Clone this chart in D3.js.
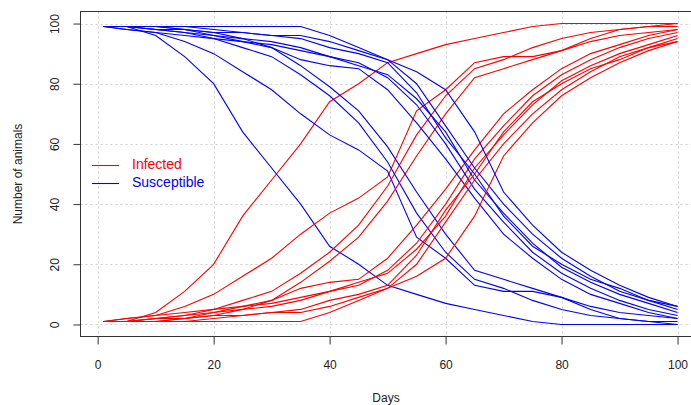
<!DOCTYPE html>
<html>
<head>
<meta charset="utf-8">
<script src="https://cdn.jsdelivr.net/npm/d3@7"></script>
<style>
  body { margin: 0; background: #fff; }
  svg { display: block; font-family: "Liberation Sans", Arial, sans-serif; }
</style>
</head>
<body>
<svg id="chart" width="691" height="405"></svg>
<script>
// ---- data ----
const days = [1, 5, 10, 15, 20, 25, 30, 35, 40, 45, 50, 55, 60, 65, 70, 75, 80, 85, 90, 95, 100];

const infA = [1, 1, 4, 11, 20, 36, 48, 60, 74, 80, 87, 90, 93, 95, 97, 99, 100, 100, 100, 100, 100];
const infB = [1, 2, 3, 6, 10, 16, 22, 30, 37, 42, 49, 71, 78, 87, 89, 89, 91, 95, 98, 99, 100];
const infC = [1, 1, 2, 3, 5, 8, 11, 17, 24, 33, 46, 63, 76, 85, 88, 92, 95, 97, 98, 99, 99];
const infD = [1, 1, 1, 2, 4, 6, 8, 14, 21, 29, 41, 56, 70, 82, 85, 88, 91, 94, 96, 97, 98];
const infE = [1, 1, 2, 3, 4, 5, 8, 12, 14, 15, 22, 33, 45, 58, 70, 78, 85, 90, 93, 96, 98];
const infF = [1, 1, 1, 2, 3, 5, 6, 8, 11, 13, 18, 27, 40, 55, 66, 76, 83, 88, 92, 95, 97];
const infG = [1, 2, 3, 4, 5, 6, 7, 9, 11, 14, 17, 25, 36, 52, 63, 73, 81, 86, 90, 93, 96];
const infH = [1, 1, 1, 1, 2, 3, 4, 5, 8, 10, 13, 23, 38, 50, 64, 74, 80, 85, 88, 92, 95];
const infI = [1, 1, 2, 2, 3, 3, 4, 4, 6, 9, 12, 20, 34, 48, 60, 70, 78, 84, 89, 92, 94];
const infJ = [1, 1, 1, 1, 1, 1, 1, 1, 4, 8, 12, 16, 22, 36, 56, 67, 76, 82, 87, 91, 94];

const susA = [99, 99, 96, 89, 80, 64, 52, 40, 26, 20, 13, 10, 7, 5, 3, 1, 0, 0, 0, 0, 0];
const susB = [99, 98, 97, 94, 90, 84, 78, 70, 63, 58, 51, 29, 22, 13, 11, 11, 9, 5, 2, 1, 0];
const susC = [99, 99, 98, 97, 95, 92, 89, 83, 76, 67, 54, 37, 24, 15, 12, 8, 5, 3, 2, 1, 1];
const susD = [99, 99, 99, 98, 96, 94, 92, 86, 79, 71, 59, 44, 30, 18, 15, 12, 9, 6, 4, 3, 2];
const susE = [99, 99, 98, 97, 96, 95, 92, 88, 86, 85, 78, 67, 55, 42, 30, 22, 15, 10, 7, 4, 2];
const susF = [99, 99, 99, 98, 97, 95, 94, 92, 89, 87, 82, 73, 60, 45, 34, 24, 17, 12, 8, 5, 3];
const susG = [99, 98, 97, 96, 95, 94, 93, 91, 89, 86, 83, 75, 64, 48, 37, 27, 19, 14, 10, 7, 4];
const susH = [99, 99, 99, 99, 98, 97, 96, 95, 92, 90, 87, 77, 62, 50, 36, 26, 20, 15, 12, 8, 5];
const susI = [99, 99, 98, 98, 97, 97, 96, 96, 94, 91, 88, 80, 66, 52, 40, 30, 22, 16, 11, 8, 6];
const susJ = [99, 99, 99, 99, 99, 99, 99, 99, 96, 92, 88, 84, 78, 64, 44, 33, 24, 18, 13, 9, 6];

const xTicks = [0, 20, 40, 60, 80, 100];
const yTicks = [0, 20, 40, 60, 80, 100];
const legendLabels = ["Infected", "Susceptible"];
const seriesColors = ["#ff0000", "#0000ff"];

const runs = [
  [infA, susA], [infB, susB], [infC, susC], [infD, susD], [infE, susE],
  [infF, susF], [infG, susG], [infH, susH], [infI, susI], [infJ, susJ]
];

// ---- layout ----
const svg = d3.select("#chart");
const pLeft = 80.5, pRight = 700.5, pTop = 11.5, pBottom = 336.5;

const x = d3.scaleLinear().domain([-2.96, 103.96]).range([pLeft, pRight]);
const y = d3.scaleLinear().domain([-4, 104]).range([pBottom, pTop]);

// grid
const grid = svg.append("g");
grid.selectAll("line.vx").data(xTicks).join("line")
  .attr("x1", d => Math.round(x(d)) + 0.5).attr("x2", d => Math.round(x(d)) + 0.5)
  .attr("y1", pTop).attr("y2", pBottom)
  .attr("stroke", "#cfcfcf").attr("stroke-dasharray", "2,3");
grid.selectAll("line.hy").data(yTicks).join("line")
  .attr("y1", d => Math.round(y(d)) + 0.5).attr("y2", d => Math.round(y(d)) + 0.5)
  .attr("x1", pLeft).attr("x2", pRight)
  .attr("stroke", "#cfcfcf").attr("stroke-dasharray", "2,3");

// lines
const line = d3.line().x((d, i) => x(days[i])).y(d => y(d)).curve(d3.curveLinear);
const lines = svg.append("g").attr("fill", "none").attr("stroke-width", 1.1);
runs.forEach(([inf, sus]) => {
  lines.append("path").attr("d", line(inf)).attr("stroke", seriesColors[0]);
  lines.append("path").attr("d", line(sus)).attr("stroke", seriesColors[1]);
});

// box
svg.append("rect").attr("x", pLeft).attr("y", pTop)
  .attr("width", pRight - pLeft).attr("height", pBottom - pTop)
  .attr("fill", "none").attr("stroke", "#333").attr("stroke-width", 1);

// axes
const xAxis = d3.axisBottom(x).tickValues(xTicks).tickSize(8).tickSizeOuter(0).tickPadding(16);
const gx = svg.append("g").attr("transform", `translate(0,${pBottom})`).call(xAxis);
gx.select(".domain").remove();
gx.selectAll(".tick line").attr("stroke", "#333");
gx.selectAll(".tick text").attr("font-size", 12).attr("fill", "#222")
  .attr("font-family", "Liberation Sans, Arial, sans-serif");

const yAxis = d3.axisLeft(y).tickValues(yTicks).tickSize(7).tickSizeOuter(0);
const gy = svg.append("g").attr("transform", `translate(${pLeft},0)`).call(yAxis);
gy.select(".domain").remove();
gy.selectAll(".tick line").attr("stroke", "#333");
gy.selectAll(".tick text")
  .attr("font-size", 12).attr("fill", "#222")
  .attr("font-family", "Liberation Sans, Arial, sans-serif")
  .attr("x", 0).attr("dy", null)
  .attr("text-anchor", "middle")
  .attr("transform", "translate(-25,0) rotate(-90)")
  .attr("y", 0).attr("dominant-baseline", "middle");

// axis titles
svg.append("text").attr("x", 386).attr("y", 402)
  .attr("text-anchor", "middle").attr("font-size", 12).attr("fill", "#222")
  .text("Days");
svg.append("text")
  .attr("transform", `translate(19,${(pTop + pBottom) / 2}) rotate(-90)`)
  .attr("text-anchor", "middle").attr("dominant-baseline", "middle")
  .attr("font-size", 12).attr("fill", "#222")
  .text("Number of animals");

// legend
const lg = svg.append("g");
legendLabels.forEach((lab, i) => {
  const ly = 165 + i * 18;
  lg.append("line").attr("x1", 92).attr("x2", 119).attr("y1", ly + 0.5).attr("y2", ly + 0.5)
    .attr("stroke", seriesColors[i]).attr("stroke-width", 1.1);
  lg.append("text").attr("x", 132).attr("y", ly).attr("dominant-baseline", "middle")
    .attr("font-size", 14).attr("fill", seriesColors[i]).text(lab);
});
</script>
</body>
</html>
